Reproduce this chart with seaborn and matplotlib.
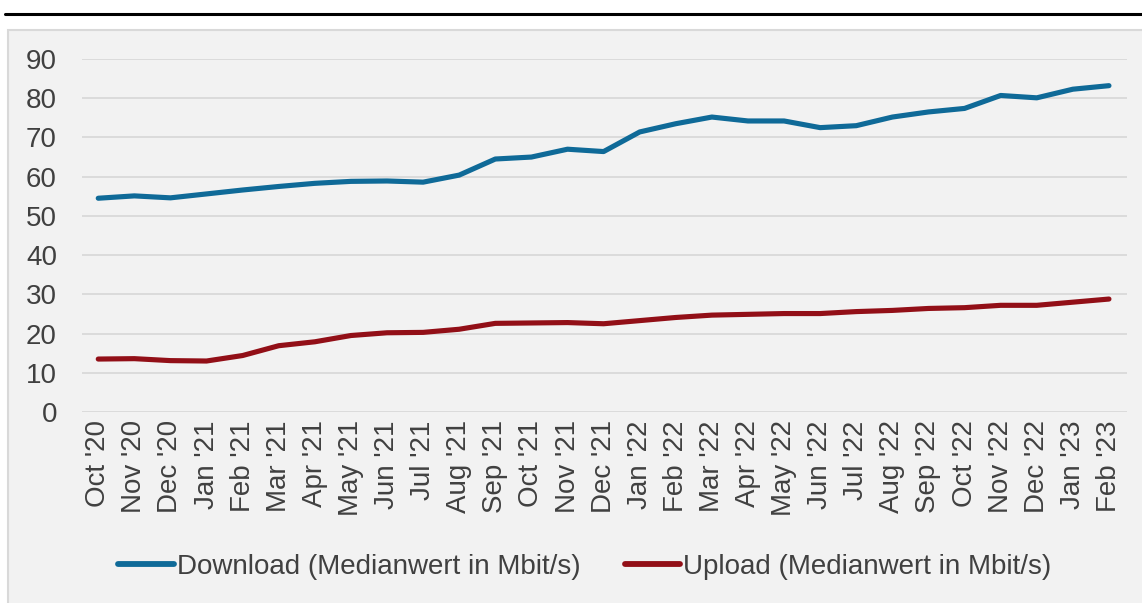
import pandas as pd
import matplotlib
matplotlib.use('Agg')
import matplotlib.pyplot as plt
import seaborn as sns
from matplotlib.patches import Rectangle
from matplotlib.lines import Line2D


months = ["Oct '20", "Nov '20", "Dec '20", "Jan '21", "Feb '21", "Mar '21", "Apr '21",
          "May '21", "Jun '21", "Jul '21", "Aug '21", "Sep '21", "Oct '21", "Nov '21",
          "Dec '21", "Jan '22", "Feb '22", "Mar '22", "Apr '22", "May '22", "Jun '22",
          "Jul '22", "Aug '22", "Sep '22", "Oct '22", "Nov '22", "Dec '22", "Jan '23",
          "Feb '23"]

download = [54.5, 55.1, 54.6, 55.6, 56.6, 57.5, 58.3, 58.8, 58.9, 58.6, 60.4, 64.5,
            65.0, 67.0, 66.4, 71.4, 73.5, 75.2, 74.2, 74.2, 72.5, 73.0, 75.2, 76.5,
            77.4, 80.7, 80.1, 82.3, 83.2]

upload = [13.5, 13.6, 13.1, 13.0, 14.4, 16.9, 17.9, 19.5, 20.2, 20.3, 21.1, 22.6,
          22.7, 22.8, 22.5, 23.3, 24.1, 24.7, 24.9, 25.1, 25.1, 25.6, 25.9, 26.4,
          26.6, 27.2, 27.2, 28.0, 28.8]

labels = ["Download (Medianwert in Mbit/s)", "Upload (Medianwert in Mbit/s)"]
colors = ["#0f6a98", "#920f17"]

sns.set_style("white")
plt.rcParams['font.family'] = ['Liberation Sans', 'DejaVu Sans']

df = pd.DataFrame({"month": months, "down": download, "up": upload})

fig = plt.figure(figsize=(11.42, 6.03), dpi=100)
fig.patch.set_facecolor("white")

# grey panel behind the chart + black rule on top
fig.patches.append(Rectangle((8 / 1142, -0.01), 1.0, (603 - 30) / 603 + 0.01,
                             transform=fig.transFigure, facecolor="#f2f2f2",
                             edgecolor="#d9d9d9", linewidth=1.5, zorder=-10))
fig.lines.append(Line2D([5 / 1142, 1.0], [1 - 14 / 603] * 2, transform=fig.transFigure,
                        color="black", linewidth=2.2, zorder=-10))

ax = fig.add_axes([82 / 1142, 1 - 412 / 603, (1127 - 82) / 1142, (412 - 59) / 603])
ax.patch.set_alpha(0)

sns.lineplot(data=df, x="month", y="down", ax=ax, color=colors[0], linewidth=3.7,
             solid_capstyle="round", solid_joinstyle="round", label=labels[0], legend=False)
sns.lineplot(data=df, x="month", y="up", ax=ax, color=colors[1], linewidth=3.7,
             solid_capstyle="round", solid_joinstyle="round", label=labels[1], legend=False)

ax.set_ylim(0, 90)
ax.set_yticks(range(0, 91, 10))
ax.set_xlim(-0.45, len(months) - 0.5)
ax.grid(axis="y", color="#d9d9d9", linewidth=1.3)
ax.grid(axis="x", visible=False)
ax.set_axisbelow(True)
for s in ax.spines.values():
    s.set_visible(False)
ax.set_xlabel("")
ax.set_ylabel("")
ax.tick_params(axis="y", length=0, pad=18, labelsize=20, labelcolor="#404040")
ax.tick_params(axis="x", length=0, pad=6, labelsize=20, labelcolor="#404040")
ax.set_xticks(range(len(months)))
ax.set_xticklabels(months, rotation=90)

handles, lbls = ax.get_legend_handles_labels()
leg = fig.legend(handles, lbls, loc="center", bbox_to_anchor=(0.512, 1 - 567 / 603), ncol=2,
                 frameon=False, fontsize=20, handlelength=2.0, handletextpad=0.1,
                 columnspacing=1.6, labelcolor="#404040")
for h in leg.legend_handles:
    h.set_linewidth(4.2)

fig.savefig("out.png", dpi=100)
